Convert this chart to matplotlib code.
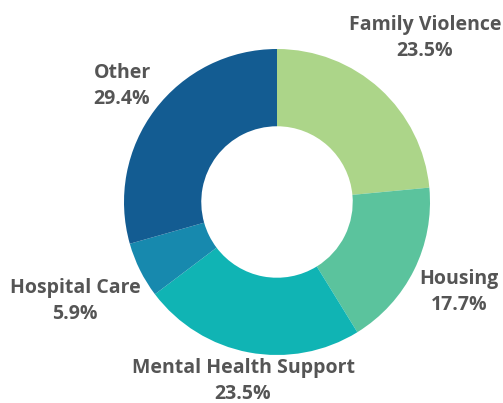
import matplotlib
matplotlib.use("Agg")
import matplotlib.pyplot as plt

categories = ["Family Violence", "Housing", "Mental Health Support", "Hospital Care", "Other"]
values = [23.5, 17.7, 23.5, 5.9, 29.4]
colors = ["#acd589", "#5bc39d", "#10b4b4", "#1789ae", "#135c92"]

# label anchor positions (in units of outer radius, relative to centre)
label_pos = [(0.967, 1.07), (1.19, -0.59), (-0.222, -1.17), (-1.32, -0.645), (-1.013, 0.76)]

W, H = 503, 403
cx, cy, R = 277, 202, 153

fig = plt.figure(figsize=(W / 100, H / 100), dpi=100)
ax = fig.add_axes([0, 0, 1, 1])
ax.pie(values, colors=colors, startangle=90, counterclock=False, radius=1,
       wedgeprops=dict(width=0.505, linewidth=0))
ax.set_xlim(-cx / R, (W - cx) / R)
ax.set_ylim(-(H - cy) / R, cy / R)
ax.set_aspect("equal")
ax.axis("off")

for cat, v, (x, y) in zip(categories, values, label_pos):
    ax.text(x, y, f"{cat}\n{v:.1f}%", ha="center", va="center", fontsize=14,
            fontweight="bold", color="#555555", family="Open Sans", linespacing=1.38)

fig.savefig("out.png", dpi=100)
